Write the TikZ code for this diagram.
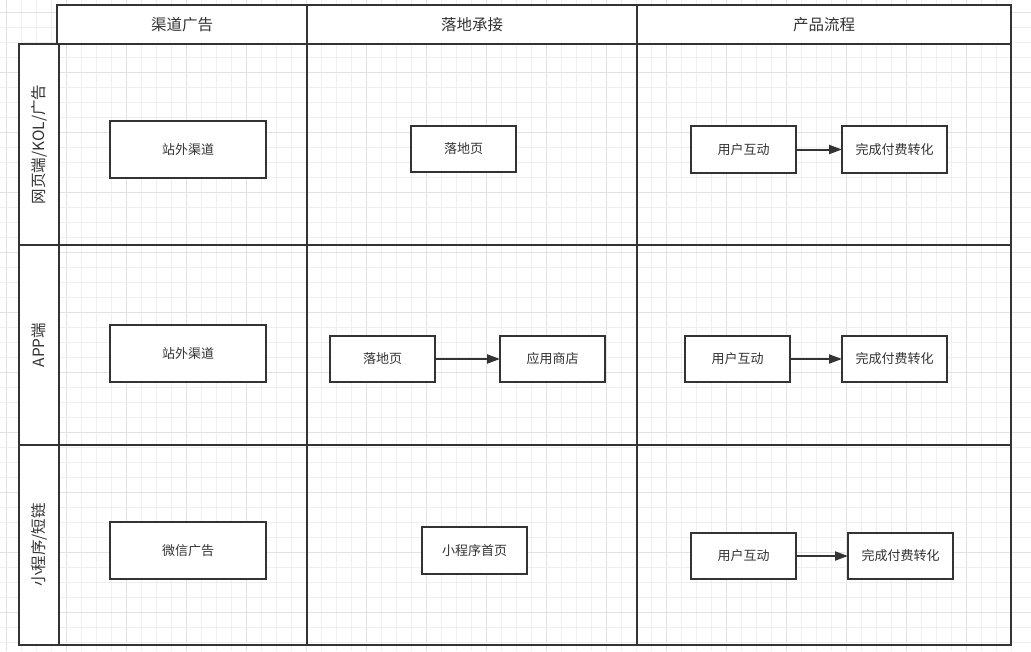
\documentclass[tikz,border=0pt]{standalone}
\usepackage{fontspec}
\setmainfont{Noto Sans CJK SC}
\usetikzlibrary{arrows.meta}
\definecolor{ink}{HTML}{333333}
\definecolor{minorgrid}{HTML}{EFEFEF}
\definecolor{majorgrid}{HTML}{E2E2E2}
\tikzset{
  box/.style={draw=ink, line width=2pt, fill=white, inner sep=0pt, outer sep=0pt, text=ink,
    font=\fontsize{13}{13}\selectfont, anchor=north west},
  headcell/.style={draw=ink, line width=2pt, fill=white, inner sep=0pt, outer sep=0pt, text=ink,
    font=\fontsize{15.5}{15.5}\selectfont, anchor=north west},
  lanecell/.style={draw=ink, line width=2pt, fill=white, inner sep=0pt, outer sep=0pt, text=ink,
    font=\fontsize{15}{15}\selectfont, anchor=north west},
  lanetext/.style={text=ink, font=\fontsize{15.5}{15.5}\selectfont, rotate=90},
  flow/.style={draw=ink, line width=2pt, -{Triangle[length=13pt,width=9pt]}},
  lane/.style={draw=ink, line width=2pt},
}
\newcommand{\mybox}[6]{% name, x1, y1, x2, y2, text
  \node[box, minimum width=#4pt-#2pt, minimum height=#5pt-#3pt] (#1) at (#2,#3) {#6};}
\begin{document}
\begin{tikzpicture}[x=1pt,y=-1pt]
\useasboundingbox (0,0) rectangle (1031,651);
\fill[white] (0,0) rectangle (1031,651);
% background grid
\foreach \k in {0,...,67} {
  \pgfmathtruncatemacro{\m}{mod(\k,4)}
  \ifnum\m=0 \def\gc{majorgrid}\else\def\gc{minorgrid}\fi
  \draw[\gc, line width=1pt] (6.7+15*\k,0) -- (6.7+15*\k,651);
}
\foreach \k in {0,...,42} {
  \pgfmathtruncatemacro{\m}{mod(\k,4)}
  \ifnum\m=0 \def\gc{majorgrid}\else\def\gc{minorgrid}\fi
  \draw[\gc, line width=1pt] (0,12.7+15*\k) -- (1031,12.7+15*\k);
}
% swimlane frame
\draw[lane] (59,44) rectangle (1011,645);
\draw[lane] (59,245) -- (1011,245);
\draw[lane] (59,445) -- (1011,445);
\draw[lane] (307,44) -- (307,645);
\draw[lane] (637,44) -- (637,645);
% header cells
\node[headcell, minimum width=250pt, minimum height=39pt] (h1) at (57,5) {渠道广告};
\node[headcell, minimum width=330pt, minimum height=39pt] (h2) at (307,5) {落地承接};
\node[headcell, minimum width=374pt, minimum height=39pt] (h3) at (637,5) {产品流程};
% row label cells
\node[lanecell, minimum width=40pt, minimum height=201pt] (r1) at (19,44) {};
\node[lanetext] (r1t) at (r1.center) {网页端/KOL/广告};
\node[lanecell, minimum width=40pt, minimum height=200pt] (r2) at (19,245) {};
\node[lanetext] (r2t) at (r2.center) {APP端};
\node[lanecell, minimum width=40pt, minimum height=200pt] (r3) at (19,445) {};
\node[lanetext] (r3t) at (r3.center) {小程序/短链};
% row 1
\mybox{a1}{110}{121}{266}{178}{站外渠道}
\mybox{b1}{411}{126}{516}{172}{落地页}
\mybox{c1}{691}{126}{796}{173}{用户互动}
\mybox{d1}{842}{126}{947}{173}{完成付费转化}
% row 2
\mybox{a2}{110}{325}{266}{382}{站外渠道}
\mybox{b2}{330}{336}{435}{382}{落地页}
\mybox{e2}{500}{336}{605}{382}{应用商店}
\mybox{c2}{685}{336}{790}{382}{用户互动}
\mybox{d2}{842}{336}{947}{382}{完成付费转化}
% row 3
\mybox{a3}{110}{522}{266}{579}{微信广告}
\mybox{b3}{422}{527}{527}{574}{小程序首页}
\mybox{c3}{691}{533}{796}{579}{用户互动}
\mybox{d3}{848}{533}{953}{579}{完成付费转化}
% connectors
\draw[flow] (c1.east) -- (d1.west);
\draw[flow] (b2.east) -- (e2.west);
\draw[flow] (c2.east) -- (d2.west);
\draw[flow] (c3.east) -- (d3.west);
\end{tikzpicture}
\end{document}
